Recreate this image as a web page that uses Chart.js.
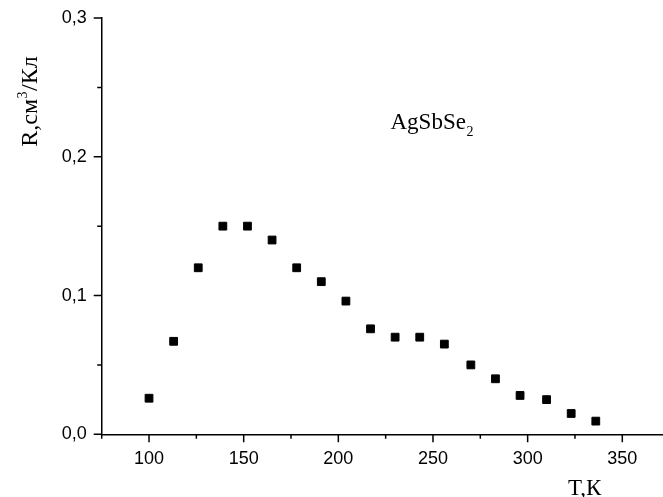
<!DOCTYPE html>
<html>
<head>
<meta charset="utf-8">
<script src="https://cdn.jsdelivr.net/npm/chart.js@4/dist/chart.umd.min.js"></script>
<style>
html,body{margin:0;padding:0;background:#fff;overflow:hidden;}
#wrap{width:663px;height:497px;position:relative;}
</style>
</head>
<body>
<div id="wrap"><canvas id="c" width="663" height="497"></canvas></div>
<script>
// ---- data ----
const temperatures = [100, 113, 126, 139, 152, 165, 178, 191, 204, 217, 230, 243, 256, 270, 283, 296, 310, 323, 336];
const hallCoeff = [0.026, 0.067, 0.120, 0.150, 0.150, 0.140, 0.120, 0.110, 0.096, 0.076, 0.070, 0.070, 0.065, 0.050, 0.040, 0.028, 0.025, 0.015, 0.0095];
const xTickValues = [75, 100, 125, 150, 175, 200, 225, 250, 275, 300, 325, 350];
const xTickLabels = [100, 150, 200, 250, 300, 350];
const yTickValues = [0, 0.05, 0.1, 0.15, 0.2, 0.25, 0.3];
const yTickLabels = ['0,0', '0,1', '0,2', '0,3'];
const yLabelledValues = [0, 0.1, 0.2, 0.3];
const xTitle = 'T,К';
const yTitleParts = ['R,см', '3', '/Кл'];
const compoundParts = ['AgSbSe', '2'];
const X_MIN = 75, X_MAX = 371.5, Y_MIN = 0, Y_MAX = 0.3;

const SERIF = '"Liberation Serif", "Times New Roman", serif';
const SANS = '"Liberation Sans", Arial, sans-serif';

const points = temperatures.map((t, i) => ({x: t, y: hallCoeff[i]}));

function near(a, b) { return Math.abs(a - b) < 1e-6; }

const tickPlugin = {
  id: 'minorMajorTicks',
  afterDraw(chart) {
    const ctx = chart.ctx;
    const xs = chart.scales.x, ys = chart.scales.y;
    const area = chart.chartArea;
    ctx.save();
    ctx.strokeStyle = '#000';
    ctx.lineWidth = 1.5;
    ctx.beginPath();
    xTickValues.forEach(v => {
      const px = xs.getPixelForValue(v);
      const major = xTickLabels.includes(v);
      const len = major ? 8 : 4.5;
      ctx.moveTo(px, area.bottom);
      ctx.lineTo(px, area.bottom + len);
    });
    yTickValues.forEach(v => {
      const py = ys.getPixelForValue(v);
      const major = yLabelledValues.some(l => near(l, v));
      const len = major ? 8 : 4.5;
      ctx.moveTo(area.left, py);
      ctx.lineTo(area.left - len, py);
    });
    ctx.stroke();

    ctx.fillStyle = '#000';
    ctx.textBaseline = 'alphabetic';
    ctx.font = '23px ' + SERIF;
    ctx.textAlign = 'left';
    ctx.fillText(xTitle, 568, 495);

    ctx.font = '23px ' + SERIF;
    ctx.fillText(compoundParts[0], 390.5, 128.5);
    const w0 = ctx.measureText(compoundParts[0]).width;
    ctx.font = '14px ' + SERIF;
    ctx.fillText(compoundParts[1], 390.5 + w0 + 0.5, 136);

    ctx.save();
    ctx.translate(37, 101.5);
    ctx.rotate(-Math.PI / 2);
    ctx.font = '24px ' + SERIF;
    const a = ctx.measureText(yTitleParts[0]).width;
    const c = ctx.measureText(yTitleParts[2]).width;
    ctx.font = '14px ' + SERIF;
    const b = ctx.measureText(yTitleParts[1]).width;
    const total = a + b + c + 1;
    let x0 = -total / 2;
    ctx.font = '24px ' + SERIF;
    ctx.fillText(yTitleParts[0], x0, 0);
    ctx.font = '14px ' + SERIF;
    ctx.fillText(yTitleParts[1], x0 + a + 0.5, -10);
    ctx.font = '24px ' + SERIF;
    ctx.fillText(yTitleParts[2], x0 + a + b + 1, 0);
    ctx.restore();

    ctx.restore();
  }
};

new Chart(document.getElementById('c'), {
  type: 'scatter',
  data: {
    datasets: [{
      data: points,
      pointStyle: 'rect',
      pointRadius: 5.5,
      pointHoverRadius: 5.5,
      backgroundColor: '#000',
      borderColor: '#000',
      borderWidth: 1,
      showLine: false,
      clip: false
    }]
  },
  options: {
    responsive: false,
    animation: false,
    events: [],
    layout: {autoPadding: false, padding: {left: 0, right: 0, top: 18, bottom: 0}},
    plugins: {legend: {display: false}, tooltip: {enabled: false}},
    scales: {
      x: {
        type: 'linear',
        bounds: 'data',
        min: X_MIN,
        max: X_MAX,
        afterBuildTicks: s => { s.min = X_MIN; s.max = X_MAX; s.ticks = xTickValues.map(v => ({value: v})); },
        afterFit: s => { s.height = 62.7; s.paddingLeft = 0; s.paddingRight = 0; s.paddingTop = 0; s.paddingBottom = 0; },
        grid: {display: true, drawOnChartArea: false, drawTicks: false},
        border: {display: true, color: '#000', width: 1.5},
        ticks: {
          autoSkip: false, maxRotation: 0, padding: 13.5, color: '#000',
          font: {family: SANS, size: 18},
          callback: v => xTickLabels.includes(v) ? String(v) : ''
        }
      },
      y: {
        type: 'linear',
        bounds: 'data',
        min: Y_MIN,
        max: Y_MAX,
        afterBuildTicks: s => { s.min = Y_MIN; s.max = Y_MAX; s.ticks = yTickValues.map(v => ({value: v})); },
        afterFit: s => { s.width = 101.7; s.paddingLeft = 0; s.paddingRight = 0; s.paddingTop = 0; s.paddingBottom = 0; },
        grid: {display: true, drawOnChartArea: false, drawTicks: false},
        border: {display: true, color: '#000', width: 1.5},
        ticks: {
          autoSkip: false, padding: 15, color: '#000',
          font: {family: SANS, size: 18},
          callback: v => {
            const i = yLabelledValues.findIndex(l => near(l, v));
            return i >= 0 ? yTickLabels[i] : '';
          }
        }
      }
    }
  },
  plugins: [tickPlugin]
});
</script>
</body>
</html>
